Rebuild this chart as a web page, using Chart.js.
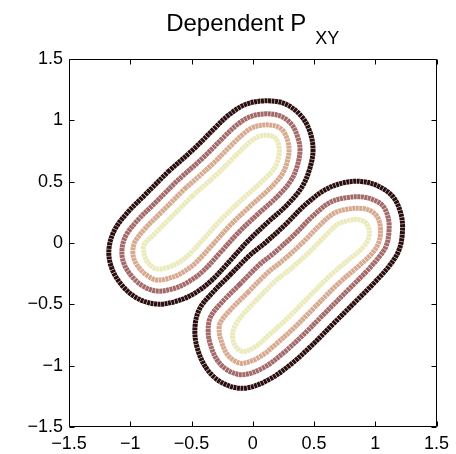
<!DOCTYPE html>
<html>
<head>
<meta charset="utf-8">
<script src="https://cdn.jsdelivr.net/npm/chart.js@4.4.0/dist/chart.umd.min.js"></script>
<style>
    html, body { margin: 0; padding: 0; background: #fff; }
</style>
</head>
<body>
<canvas id="chart" width="456" height="454"></canvas>
<script>
// title text (P with subscript XY)
const titleMain = 'Dependent P'
const titleSub = 'XY'

// axis ticks
const tickValues = [-1.5, -1, -0.5, 0, 0.5, 1, 1.5]
const tickLabels = ['\u22121.5', '\u22121', '\u22120.5', '0', '0.5', '1', '1.5']

// contour levels, outermost first
const levelColors = ['#2b0e0e', '#a46969', '#d7aa90', '#ebeabb']

// upper-left blob, contour points [x, y]
const upperLevel1 = [[-0.692,0.580],[-0.471,0.776],[-0.316,0.931],[-0.194,1.045],[-0.055,1.131],[0.108,1.159],[0.263,1.135],[0.394,1.037],[0.467,0.906],[0.492,0.759],[0.467,0.612],[0.402,0.457],[0.280,0.310],[0.116,0.163],[-0.047,0.008],[-0.202,-0.163],[-0.333,-0.302],[-0.471,-0.408],[-0.618,-0.473],[-0.782,-0.498],[-0.945,-0.449],[-1.076,-0.335],[-1.157,-0.188],[-1.173,-0.041],[-1.124,0.114],[-1.018,0.253],[-0.880,0.392]]
const upperLevel2 = [[-0.618,0.506],[-0.398,0.702],[-0.243,0.857],[-0.129,0.963],[-0.022,1.029],[0.108,1.053],[0.231,1.033],[0.320,0.963],[0.369,0.857],[0.386,0.759],[0.365,0.633],[0.312,0.510],[0.206,0.384],[0.043,0.237],[-0.120,0.082],[-0.276,-0.090],[-0.406,-0.229],[-0.524,-0.316],[-0.645,-0.371],[-0.782,-0.392],[-0.896,-0.351],[-0.994,-0.264],[-1.056,-0.155],[-1.067,-0.046],[-1.035,0.061],[-0.945,0.180],[-0.806,0.318]]
const upperLevel3 = [[-0.555,0.442],[-0.334,0.638],[-0.179,0.793],[-0.075,0.891],[0.004,0.943],[0.108,0.963],[0.204,0.947],[0.258,0.900],[0.296,0.776],[0.278,0.651],[0.236,0.555],[0.142,0.447],[-0.021,0.300],[-0.184,0.145],[-0.339,-0.026],[-0.470,-0.165],[-0.569,-0.238],[-0.667,-0.283],[-0.782,-0.302],[-0.855,-0.270],[-0.926,-0.205],[-0.970,-0.128],[-0.978,-0.051],[-0.958,0.016],[-0.877,0.120],[-0.742,0.255]]
const upperLevel4 = [[-0.494,0.382],[-0.274,0.578],[-0.119,0.733],[-0.023,0.823],[0.043,0.865],[0.108,0.878],[0.178,0.861],[0.214,0.792],[0.210,0.694],[0.173,0.604],[0.082,0.508],[-0.081,0.361],[-0.244,0.206],[-0.400,0.034],[-0.530,-0.104],[-0.612,-0.163],[-0.708,-0.204],[-0.798,-0.208],[-0.862,-0.149],[-0.888,-0.082],[-0.888,-0.016],[-0.812,0.064],[-0.682,0.194]]

// lower-right blob
const lowerLevel1 = [[-0.186,-0.261],[-0.022,-0.098],[0.100,0.000],[0.263,0.147],[0.427,0.310],[0.590,0.433],[0.737,0.490],[0.884,0.502],[1.022,0.465],[1.145,0.376],[1.210,0.237],[1.222,0.090],[1.194,-0.057],[1.120,-0.180],[0.998,-0.318],[0.835,-0.482],[0.647,-0.669],[0.484,-0.833],[0.312,-0.988],[0.124,-1.118],[-0.071,-1.184],[-0.243,-1.143],[-0.373,-1.029],[-0.455,-0.849],[-0.471,-0.678],[-0.431,-0.531],[-0.324,-0.400]]
const lowerLevel2 = [[-0.108,-0.339],[0.055,-0.176],[0.178,-0.078],[0.341,0.069],[0.493,0.222],[0.628,0.329],[0.748,0.367],[0.884,0.376],[0.978,0.355],[1.062,0.303],[1.106,0.204],[1.112,0.090],[1.089,-0.024],[1.032,-0.113],[0.920,-0.241],[0.757,-0.404],[0.569,-0.592],[0.406,-0.755],[0.246,-0.900],[0.092,-1.014],[-0.071,-1.073],[-0.187,-1.047],[-0.285,-0.962],[-0.348,-0.821],[-0.364,-0.705],[-0.342,-0.597],[-0.247,-0.478]]
const lowerLevel3 = [[-0.042,-0.405],[0.121,-0.242],[0.244,-0.144],[0.407,0.003],[0.549,0.147],[0.661,0.241],[0.758,0.273],[0.884,0.282],[0.965,0.261],[1.022,0.204],[1.043,0.106],[1.027,0.000],[0.969,-0.090],[0.864,-0.188],[0.691,-0.338],[0.503,-0.526],[0.340,-0.689],[0.190,-0.824],[0.063,-0.925],[-0.071,-0.980],[-0.140,-0.966],[-0.210,-0.906],[-0.257,-0.798],[-0.273,-0.729],[-0.267,-0.653],[-0.181,-0.544]]
const lowerLevel4 = [[0.024,-0.471],[0.187,-0.308],[0.310,-0.210],[0.473,-0.063],[0.605,0.072],[0.693,0.153],[0.768,0.180],[0.859,0.192],[0.924,0.163],[0.953,0.090],[0.933,0.008],[0.867,-0.069],[0.794,-0.127],[0.625,-0.272],[0.437,-0.460],[0.274,-0.623],[0.133,-0.749],[0.035,-0.836],[-0.071,-0.886],[-0.129,-0.857],[-0.161,-0.792],[-0.161,-0.718],[-0.104,-0.612]]

const FONT = '"Liberation Sans", Arial, Helvetica, sans-serif'

// closed loop: back to the first point (it sits on a straight stretch)
function loop(pts) {
    return pts.concat([pts[0]]).map(p => ({x: p[0], y: p[1]}))
}

function contour(pts, level) {
    return {
        data: loop(pts),
        showLine: true,
        borderColor: levelColors[level],
        backgroundColor: levelColors[level],
        borderWidth: 5,
        borderDash: [3, 0.5],
        pointRadius: 0,
        tension: 0.35,
        fill: false
    }
}

const frame = {
    id: 'frame',
    afterDraw(chart) {
        const {ctx, chartArea: a, scales} = chart
        const L = Math.round(a.left) + 0.5, R = Math.round(a.right) - 0.5
        const T = Math.round(a.top) + 0.5, B = Math.round(a.bottom) - 0.5
        ctx.save()
        ctx.strokeStyle = '#000'
        ctx.lineWidth = 1
        ctx.beginPath()
        ctx.rect(L, T, R - L, B - T)
        tickValues.forEach(v => {
            const px = Math.round(scales.x.getPixelForValue(v)) + 0.5
            ctx.moveTo(px, B); ctx.lineTo(px, B - 5)
            ctx.moveTo(px, T); ctx.lineTo(px, T + 5)
            const py = Math.round(scales.y.getPixelForValue(v)) + 0.5
            ctx.moveTo(L, py); ctx.lineTo(L + 5, py)
            ctx.moveTo(R, py); ctx.lineTo(R - 5, py)
        })
        ctx.stroke()

        // title with subscript
        const cx = (a.left + a.right) / 2
        ctx.fillStyle = '#000'
        ctx.textBaseline = 'alphabetic'
        ctx.textAlign = 'left'
        ctx.font = '24px ' + FONT
        const wMain = ctx.measureText(titleMain).width
        ctx.font = '18px ' + FONT
        const wSub = ctx.measureText(titleSub).width
        const gap = 9
        const x0 = cx - (wMain + gap + wSub) / 2
        ctx.font = '24px ' + FONT
        ctx.fillText(titleMain, x0, 31)
        ctx.font = '18px ' + FONT
        ctx.fillText(titleSub, x0 + wMain + gap, 43.5)
        ctx.restore()
    }
}

function axis(isX) {
    return {
        type: 'linear',
        min: -1.5,
        max: 1.5,
        afterBuildTicks: s => { s.ticks = tickValues.map(v => ({value: v})) },
        afterFit: s => { if (isX) s.height = 27; else s.width = 69 },
        grid: {display: false, drawTicks: false},
        border: {display: false},
        ticks: {
            color: '#000',
            padding: 6,
            font: {family: FONT, size: 18},
            maxRotation: 0,
            autoSkip: false,
            callback: v => tickLabels[tickValues.indexOf(v)]
        }
    }
}

new Chart('chart', {
    type: 'scatter',
    data: {
        datasets: [
            contour(upperLevel1, 0), contour(upperLevel2, 1), contour(upperLevel3, 2), contour(upperLevel4, 3),
            contour(lowerLevel1, 0), contour(lowerLevel2, 1), contour(lowerLevel3, 2), contour(lowerLevel4, 3)
        ]
    },
    options: {
        responsive: false,
        animation: false,
        devicePixelRatio: 1,
        layout: {padding: {top: 59, right: 19.5, left: 0, bottom: 0}},
        plugins: {legend: {display: false}, tooltip: {enabled: false}, title: {display: false}},
        scales: {x: axis(true), y: axis(false)}
    },
    plugins: [frame]
})
</script>
</body>
</html>
